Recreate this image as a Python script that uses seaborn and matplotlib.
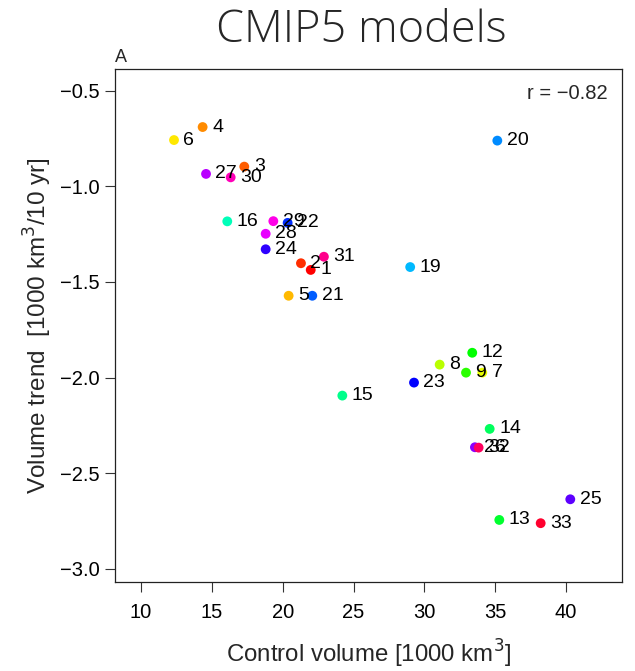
import matplotlib
matplotlib.use("Agg")
import matplotlib.pyplot as plt
import seaborn as sns
import pandas as pd
import colorsys

# Model numbers, control-run volume and volume trend
models = [1, 2, 3, 4, 5, 6, 7, 8, 9, 12, 13, 14, 15, 16, 19, 20, 21,
          22, 23, 24, 25, 26, 27, 28, 29, 30, 31, 32, 33]
control_volume = [21.98, 21.29, 17.29, 14.35, 20.42, 12.33, 34.09, 31.08, 32.94,
                  33.38, 35.29, 34.61, 24.21, 16.09, 29.00, 35.15, 22.09,
                  20.35, 29.27, 18.80, 40.30, 33.57, 14.59, 18.80, 19.34,
                  16.33, 22.91, 33.83, 38.21]
volume_trend = [-1.437, -1.402, -0.897, -0.690, -1.572, -0.758, -1.974, -1.932, -1.974,
                -1.870, -2.744, -2.268, -2.094, -1.183, -1.422, -0.761, -1.572,
                -1.191, -2.026, -1.329, -2.636, -2.364, -0.935, -1.248, -1.182,
                -0.953, -1.368, -2.366, -2.761]
correlation = -0.82

# rainbow colouring by model index (33 models)
def rainbow(i, n=33):
    r, g, b = colorsys.hsv_to_rgb((i - 1) / n, 1, 1)
    return (r, g, b)

palette = {m: rainbow(m) for m in models}
palette[9] = colorsys.hsv_to_rgb(110 / 360, 1, 1)

df = pd.DataFrame({"model": models, "control": control_volume, "trend": volume_trend})

sns.set_style("ticks")
plt.rcParams["font.family"] = ["Liberation Sans", "DejaVu Sans"]

fig = plt.figure(figsize=(6.35, 6.71), dpi=100)
ax = fig.add_axes([115 / 635, 1 - 582.3 / 671, (622 - 115) / 635, (582.3 - 69) / 671])

sns.scatterplot(data=df, x="control", y="trend", hue="model", palette=palette,
                s=50, edgecolor="none", legend=False, ax=ax, zorder=3)

for m, xv, yv in zip(models, control_volume, volume_trend):
    ax.annotate(str(m), (xv, yv), xytext=(6.8, 0), textcoords="offset points",
                ha="left", va="center", fontsize=14, color="black", zorder=4)

ax.set_xlim(8.165, 43.95)
ax.set_ylim(-3.070, -0.3866)
ax.set_xticks([10, 15, 20, 25, 30, 35, 40])
ax.set_yticks([-0.5, -1.0, -1.5, -2.0, -2.5, -3.0])
ax.set_yticklabels(["\u22120.5", "\u22121.0", "\u22121.5", "\u22122.0", "\u22122.5", "\u22123.0"])
ax.tick_params(axis="both", direction="out", length=7, width=0.8, color="#333333",
               labelsize=14.5, labelcolor="black")
ax.tick_params(axis="x", pad=8)
ax.tick_params(axis="y", pad=4)
for sp in ax.spines.values():
    sp.set_visible(True)
    sp.set_linewidth(0.9)
    sp.set_color("#222222")

ax.set_xlabel("Control volume [1000 km$^3$]", fontsize=17.3, labelpad=11)
ax.set_ylabel("Volume trend  [1000 km$^3$/10 yr]", fontsize=17.5, labelpad=4)

ax.text(0.972, 0.953, f"r = \u2212{abs(correlation):.2f}", transform=ax.transAxes,
        ha="right", va="center", fontsize=14.5)
ax.text(0.0, 1.005, "A", transform=ax.transAxes, ha="left", va="bottom", fontsize=13)

fig.text(361 / 635, 1 - 31 / 671, "CMIP5 models", ha="center", va="center",
         fontsize=32.4, fontfamily="Open Sans", fontweight="light")

fig.savefig("out.png", dpi=100, facecolor="white")
